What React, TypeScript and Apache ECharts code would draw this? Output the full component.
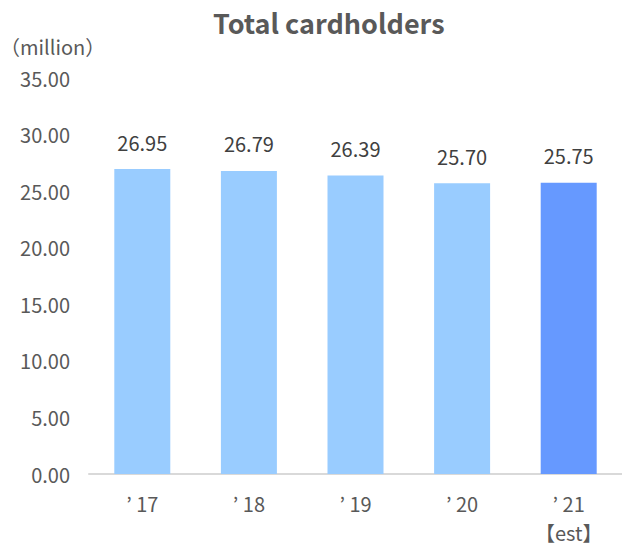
import React, { useEffect, useRef } from "react";
import * as echarts from "echarts";

const categories = ["’ 17", "’ 18", "’ 19", "’ 20", "’ 21\n【est】"];
const cardholders = [26.95, 26.79, 26.39, 25.7, 25.75];
const barColors = ["#99CCFF", "#99CCFF", "#99CCFF", "#99CCFF", "#6699FF"];
const titleText = "Total cardholders";
const unitText = "（million）";

const FONT = "'Noto Sans CJK JP', 'Noto Sans', sans-serif";

export default function App() {
  const ref = useRef<HTMLDivElement>(null);
  useEffect(() => {
    document.body.style.margin = "0";
    if (!ref.current) return;
    const chart = echarts.init(ref.current, undefined, { renderer: "svg" });
    chart.setOption({
      animation: false,
      backgroundColor: "#ffffff",
      textStyle: { fontFamily: FONT },
      title: {
        text: titleText,
        left: 208,
        top: 4,
        textStyle: { fontSize: 27, fontWeight: "bold", color: "#595959", fontFamily: FONT },
      },
      graphic: [
        {
          type: "text",
          left: 0,
          top: 36,
          style: { text: unitText, fontSize: 20, fill: "#595959", fontFamily: FONT },
        },
      ],
      grid: { left: 89, right: -3, top: 78, bottom: 74, containLabel: false },
      xAxis: {
        type: "category",
        data: categories,
        axisLine: { lineStyle: { color: "#D9D9D9", width: 2 } },
        axisTick: { show: false },
        axisLabel: {
          fontSize: 20,
          color: "#595959",
          margin: 15,
          lineHeight: 29,
          fontFamily: FONT,
        },
      },
      yAxis: {
        type: "value",
        min: 0,
        max: 35,
        interval: 5,
        splitLine: { show: false },
        axisLine: { show: false },
        axisTick: { show: false },
        axisLabel: {
          fontSize: 20,
          color: "#595959",
          margin: 19,
          fontFamily: FONT,
          formatter: (v: number) => v.toFixed(2),
        },
      },
      series: [
        {
          type: "bar",
          barWidth: 56,
          data: cardholders.map((v, i) => ({ value: v, itemStyle: { color: barColors[i] } })),
          label: {
            show: true,
            position: "top",
            distance: 17,
            fontSize: 20,
            color: "#404040",
            fontFamily: FONT,
            formatter: (p: any) => Number(p.value).toFixed(2),
          },
        },
      ],
    });
    return () => chart.dispose();
  }, []);
  return <div ref={ref} style={{ width: 622, height: 548 }} />;
}
